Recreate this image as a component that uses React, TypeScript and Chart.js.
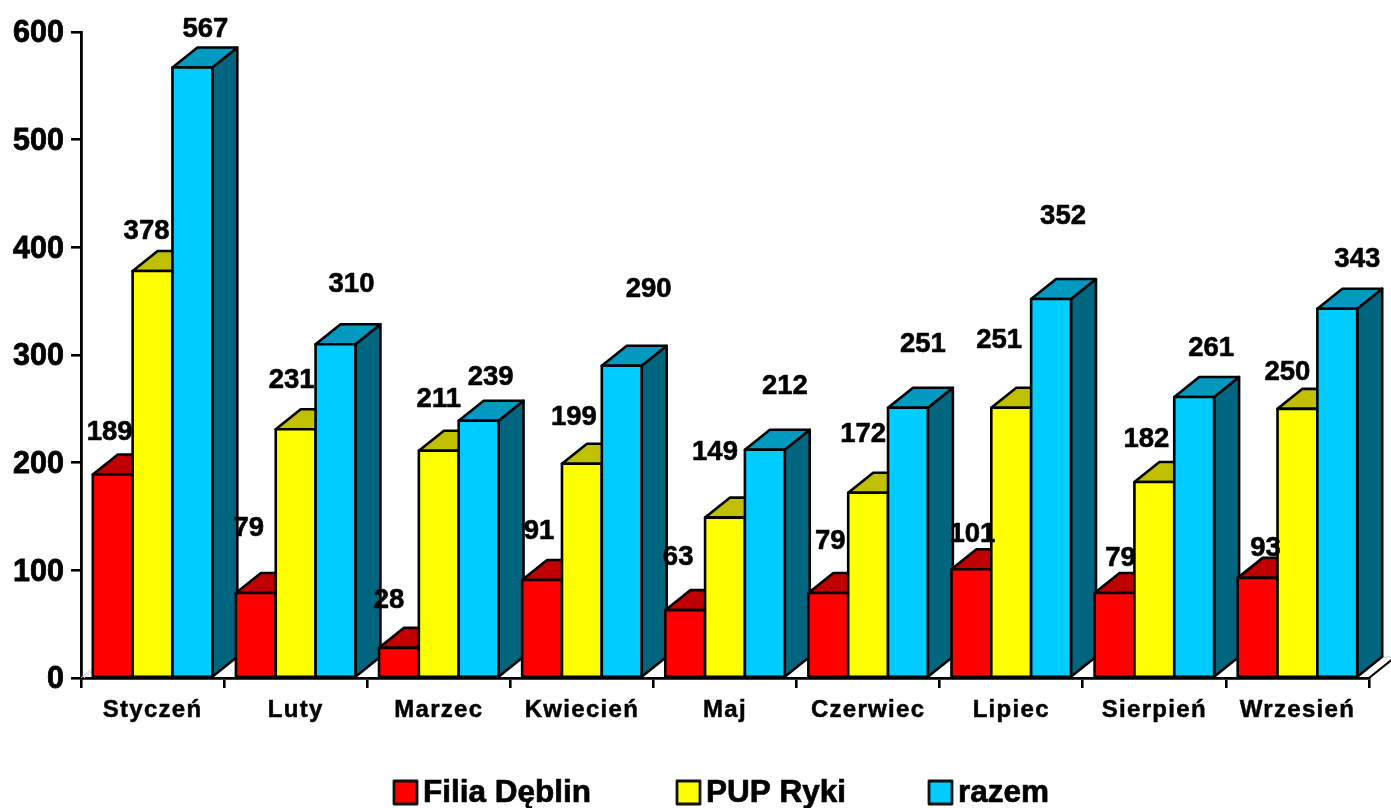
import React, { useEffect, useRef } from "react";
import { Chart, registerables } from "chart.js";

Chart.register(...registerables);

const categories = ["Styczeń", "Luty", "Marzec", "Kwiecień", "Maj", "Czerwiec", "Lipiec", "Sierpień", "Wrzesień"];
const filiaDeblin = [189, 79, 28, 91, 63, 79, 101, 79, 93];
const pupRyki = [378, 231, 211, 199, 149, 172, 251, 182, 250];
const razem = [567, 310, 239, 290, 212, 251, 352, 261, 343];
const yTickValues = [0, 100, 200, 300, 400, 500, 600];

const FONT = "'Liberation Sans', Arial, sans-serif";
const DEPTH_X = 25;
const DEPTH_Y = 20;

// Hand-placed label offsets from the top centre of each bar, as in the source chart.
const labelNudges: [number, number][][] = [
  [[-3, -42], [-7, -65], [-10, -47], [-3, -49], [-7, -53], [2, -52], [1, -35], [6, -35], [8, -29]],
  [[-6, -40], [-4, -49], [0, -51], [-8, -46], [-10, -65], [-5, -58], [-12, -67], [-8, -43], [-10, -36]],
  [[13, -38], [16, -60], [12, -43], [27, -76], [20, -63], [15, -63], [12, -83], [17, -49], [20, -49]],
];

const faces = [
  { front: "#FF0000", top: "#C00000", side: "#800000" },
  { front: "#FFFF00", top: "#C0C000", side: "#808000" },
  { front: "#00CCFF", top: "#0099BF", side: "#006680" },
];

const legendPlaces = [394, 677, 929];

const poly = (ctx: CanvasRenderingContext2D, pts: number[][], fill: string) => {
  ctx.beginPath();
  pts.forEach(([x, y], i) => (i ? ctx.lineTo(x, y) : ctx.moveTo(x, y)));
  ctx.closePath();
  ctx.fillStyle = fill;
  ctx.fill();
  ctx.stroke();
};

const boldText = (ctx: CanvasRenderingContext2D, text: string, x: number, y: number, weight: number) => {
  ctx.lineWidth = weight;
  ctx.strokeStyle = "#000";
  ctx.fillStyle = "#000";
  ctx.strokeText(text, x, y);
  ctx.fillText(text, x, y);
};

const bars3d = {
  id: "bars3d",
  beforeDatasetsDraw(chart: any) {
    const { ctx, chartArea, scales } = chart;
    const base = scales.y.getPixelForValue(0);
    ctx.save();
    // floor edges and wall
    ctx.lineWidth = 1;
    ctx.strokeStyle = "#C8C8C8";
    ctx.beginPath();
    for (const off of [0, 3]) {
      ctx.moveTo(chartArea.left + off, base);
      ctx.lineTo(chartArea.left + off + DEPTH_X, base - DEPTH_Y);
    }
    ctx.moveTo(chartArea.left + DEPTH_X, base - DEPTH_Y - 1);
    ctx.lineTo(chartArea.right + DEPTH_X, base - DEPTH_Y - 1);
    ctx.stroke();
    ctx.lineWidth = 2;
    ctx.strokeStyle = "#000";
    ctx.beginPath();
    ctx.moveTo(chartArea.right, base);
    ctx.lineTo(chartArea.right + DEPTH_X, base - DEPTH_Y);
    ctx.stroke();

    ctx.lineWidth = 2.6;
    ctx.lineJoin = "round";
    const metas = chart.data.datasets.map((_: any, d: number) => chart.getDatasetMeta(d));
    categories.forEach((_, i) => {
      metas.forEach((meta: any, d: number) => {
        const bar = meta.data[i];
        const { x, y, base: b, width } = bar.getProps(["x", "y", "base", "width"], true);
        const l = x - width / 2;
        const r = x + width / 2;
        poly(ctx, [[r, y], [r + DEPTH_X, y - DEPTH_Y], [r + DEPTH_X, b - DEPTH_Y], [r, b]], faces[d].side);
        poly(ctx, [[l, y], [l + DEPTH_X, y - DEPTH_Y], [r + DEPTH_X, y - DEPTH_Y], [r, y]], faces[d].top);
        bar.draw(ctx);
        ctx.strokeRect(l, y, width, b - y);
      });
    });
    ctx.restore();
    return false;
  },
  afterDraw(chart: any) {
    const { ctx } = chart;
    ctx.save();
    ctx.lineJoin = "round";
    // value labels
    ctx.font = `bold 27.5px ${FONT}`;
    ctx.textAlign = "center";
    ctx.textBaseline = "middle";
    chart.data.datasets.forEach((ds: any, d: number) => {
      chart.getDatasetMeta(d).data.forEach((bar: any, i: number) => {
        const { x, y } = bar.getProps(["x", "y"], true);
        const [dx, dy] = labelNudges[d][i];
        boldText(ctx, String(ds.data[i]), x + dx, y + dy, 0.6);
      });
    });
    // legend
    ctx.font = `bold 31.5px ${FONT}`;
    ctx.textAlign = "left";
    chart.data.datasets.forEach((ds: any, d: number) => {
      const left = legendPlaces[d];
      ctx.fillStyle = ds.backgroundColor;
      ctx.lineWidth = 2.8;
      ctx.strokeStyle = "#111";
      ctx.fillRect(left, 781, 23, 23);
      ctx.strokeRect(left, 781, 23, 23);
      boldText(ctx, ds.label, left + 29, 793, 0.7);
    });
    ctx.restore();
  },
  afterLayout(chart: any) {
    const xScale = chart.scales.x;
    if (xScale.__spaced) return;
    xScale.__spaced = true;
    const original = xScale.drawLabels;
    xScale.drawLabels = function (area: any) {
      chart.ctx.save();
      chart.ctx.letterSpacing = "1.3px";
      original.call(this, area);
      chart.ctx.restore();
    };
  },
};

export default function App() {
  const ref = useRef<HTMLCanvasElement>(null);
  useEffect(() => {
    document.body.style.margin = "0";
    const series = [
      { label: "Filia Dęblin", data: filiaDeblin },
      { label: "PUP Ryki", data: pupRyki },
      { label: "razem", data: razem },
    ];
    const chart = new Chart(ref.current!, {
      type: "bar",
      data: {
        labels: categories,
        datasets: series.map((s, d) => ({
          ...s,
          backgroundColor: faces[d].front,
          borderWidth: 0,
          categoryPercentage: 0.835,
          barPercentage: 1,
        })),
      },
      options: {
        animation: false,
        responsive: false,
        layout: { padding: { top: 32, right: 22, left: 0, bottom: 0 } },
        plugins: { legend: { display: false }, tooltip: { enabled: false } },
        scales: {
          x: {
            afterFit: (s: any) => { s.height = 130; },
            border: { color: "#000", width: 2.8 },
            grid: { drawOnChartArea: false, color: "#000", lineWidth: 2.6, tickLength: 10 },
            ticks: {
              color: "#000",
              font: { family: FONT, size: 24, weight: "bold" },
              padding: 8,
              maxRotation: 0,
              autoSkip: false,
              textStrokeColor: "#000",
              textStrokeWidth: 0.5,
            },
          },
          y: {
            min: 0,
            max: 600,
            afterFit: (s: any) => { s.width = 81; },
            afterBuildTicks: (s: any) => { s.ticks = yTickValues.map((value) => ({ value })); },
            border: { color: "#000", width: 2.8 },
            grid: { drawOnChartArea: false, color: "#000", lineWidth: 2.6, tickLength: 10 },
            ticks: {
              color: "#000",
              font: { family: FONT, size: 30.5, weight: "bold" },
              padding: 7,
              labelOffset: 2,
              textStrokeColor: "#000",
              textStrokeWidth: 0.8,
            },
          },
        },
      },
      plugins: [bars3d],
    } as any);
    return () => chart.destroy();
  }, []);
  return <canvas ref={ref} width={1391} height={808} style={{ display: "block" }} />;
}
